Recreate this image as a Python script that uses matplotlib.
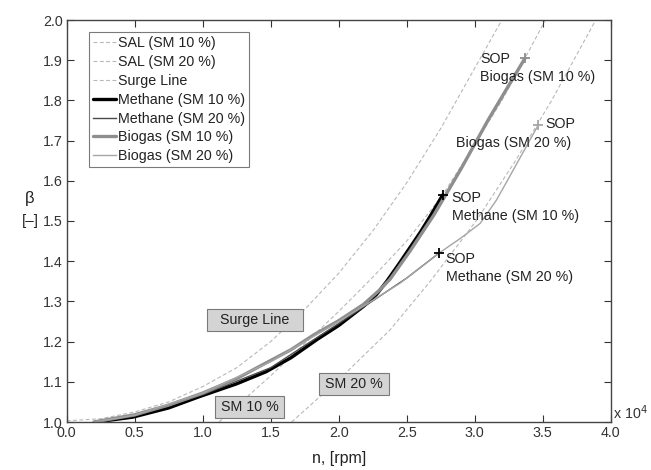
import matplotlib
matplotlib.use("Agg")
import matplotlib.pyplot as plt
from matplotlib.patches import Rectangle

plt.rcParams['font.family'] = ['Liberation Sans', 'DejaVu Sans']

# ---- data (n in rpm, beta in -) ----
surge_n = [0, 2500, 5000, 7500, 10000, 12500, 15000, 17500, 20000, 22500, 25000, 27500, 30000, 32000]
surge_b = [1.003, 1.008, 1.025, 1.050, 1.088, 1.135, 1.200, 1.280, 1.370, 1.475, 1.595, 1.730, 1.880, 2.000]

sal10_n = [11200, 15000, 20000, 22500, 25000, 27650, 30000, 32000, 33700, 35200]
sal10_b = [1.000, 1.115, 1.275, 1.360, 1.450, 1.565, 1.690, 1.800, 1.905, 2.000]

sal20_n = [16540, 20000, 23770, 26710, 30100, 33000, 35660, 38900]
sal20_b = [1.000, 1.105, 1.229, 1.349, 1.500, 1.650, 1.800, 2.000]

meth10_n = [2150, 4850, 7500, 9750, 12500, 14660, 16500, 18400, 20000, 21800, 22800, 23530, 24400, 25240, 26000, 26710, 27650]
meth10_b = [1.000, 1.012, 1.035, 1.063, 1.095, 1.125, 1.160, 1.205, 1.240, 1.287, 1.318, 1.350, 1.392, 1.434, 1.472, 1.511, 1.565]

meth20_n = [2100, 5000, 10000, 15000, 18400, 20000, 22000, 25000, 27370]
meth20_b = [1.000, 1.015, 1.068, 1.135, 1.210, 1.245, 1.290, 1.358, 1.420]

bio10_n = [2000, 5000, 7500, 10000, 12500, 14660, 16500, 18130, 20000, 21800, 23000, 23770, 25240, 27000, 29000, 31000, 33700]
bio10_b = [1.000, 1.018, 1.042, 1.072, 1.108, 1.147, 1.180, 1.216, 1.252, 1.292, 1.328, 1.355, 1.425, 1.515, 1.630, 1.752, 1.905]

bio20_n = [2000, 5000, 10000, 15000, 18400, 20000, 22000, 24500, 27370, 29000, 30400, 31600, 33100, 34680]
bio20_b = [1.000, 1.017, 1.072, 1.150, 1.218, 1.250, 1.292, 1.345, 1.420, 1.458, 1.494, 1.552, 1.643, 1.739]

sop_n = {'m10': 27650, 'm20': 27370, 'b10': 33700, 'b20': 34680}
sop_b = {'m10': 1.565, 'm20': 1.420, 'b10': 1.905, 'b20': 1.740}

legend_labels = ['SAL (SM 10 %)', 'SAL (SM 20 %)', 'Surge Line', 'Methane (SM 10 %)',
                 'Methane (SM 20 %)', 'Biogas (SM 10 %)', 'Biogas (SM 20 %)']
xticks = [0, 5000, 10000, 15000, 20000, 25000, 30000, 35000, 40000]
yticks = [1.0, 1.1, 1.2, 1.3, 1.4, 1.5, 1.6, 1.7, 1.8, 1.9, 2.0]

# ---- figure ----
fig = plt.figure(figsize=(6.51, 4.70), dpi=100)
ax = fig.add_axes([66.7/651, 48/470, 544/651, 402/470])

dash_c = '#b8b8b8'
dkw = dict(color=dash_c, lw=0.8, ls=(0, (3.5, 2.2)))
ax.plot(sal10_n, sal10_b, label=legend_labels[0], **dkw)
ax.plot(sal20_n, sal20_b, label=legend_labels[1], **dkw)
ax.plot(surge_n, surge_b, label=legend_labels[2], **dkw)

ax.plot(meth10_n, meth10_b, color='#000000', lw=2.4, label=legend_labels[3], solid_capstyle='round')
ax.plot(meth20_n, meth20_b, color='#4a4a4a', lw=1.0, label=legend_labels[4])
ax.plot(bio10_n, bio10_b, color='#8e8e8e', lw=2.4, label=legend_labels[5], solid_capstyle='round')
ax.plot(bio20_n, bio20_b, color='#a6a6a6', lw=1.0, label=legend_labels[6])

# SOP markers
ax.plot(sop_n['m10'], sop_b['m10'], marker='+', ms=7, mew=1.3, color='black', ls='none')
ax.plot(sop_n['m20'], sop_b['m20'], marker='+', ms=7, mew=1.3, color='black', ls='none')
ax.plot(sop_n['b10'], sop_b['b10'], marker='+', ms=7, mew=1.3, color='#8e8e8e', ls='none')
ax.plot(sop_n['b20'], sop_b['b20'], marker='+', ms=7, mew=1.3, color='#a6a6a6', ls='none')

fs = 10.3
tc = '#222222'
ax.text(30390, 1.903, 'SOP', fontsize=fs, color=tc, va='center', ha='left')
ax.text(30390, 1.859, 'Biogas (SM 10 %)', fontsize=fs, color=tc, va='center', ha='left')
ax.text(35220, 1.7405, 'SOP', fontsize=fs, color=tc, va='center', ha='left')
ax.text(28600, 1.695, 'Biogas (SM 20 %)', fontsize=fs, color=tc, va='center', ha='left')
ax.text(28310, 1.557, 'SOP', fontsize=fs, color=tc, va='center', ha='left')
ax.text(28310, 1.513, 'Methane (SM 10 %)', fontsize=fs, color=tc, va='center', ha='left')
ax.text(27870, 1.4055, 'SOP', fontsize=fs, color=tc, va='center', ha='left')
ax.text(27870, 1.3614, 'Methane (SM 20 %)', fontsize=fs, color=tc, va='center', ha='left')

# label boxes: (center n, center beta, width px, height px)
px_n = 1e4 / 136.0
px_b = 1.0 / 402.0
for label, cn, cb, wpx in [('Surge Line', 13820, 1.2525, 96),
                           ('SM 10 %', 13450, 1.037, 69),
                           ('SM 20 %', 21130, 1.094, 70)]:
    w = wpx * px_n
    h = 22 * px_b
    ax.add_patch(Rectangle((cn - w / 2, cb - h / 2), w, h, facecolor='#d4d4d4',
                           edgecolor='#7a7a7a', lw=0.8, zorder=5))
    ax.text(cn, cb, label, fontsize=fs, color=tc, ha='center', va='center', zorder=6)

ax.set_xlim(0, 40000)
ax.set_ylim(1.0, 2.0)
ax.set_xticks(xticks)
ax.set_xticklabels([f'{v/1e4:.1f}' for v in xticks])
ax.set_yticks(yticks)
ax.set_yticklabels([f'{v:.1f}' for v in yticks])
ax.tick_params(direction='in', length=5, width=0.8, top=True, right=True,
               labelsize=fs, colors='#333333', pad=3)
for s in ax.spines.values():
    s.set_color('#444444')
    s.set_linewidth(1.0)

ax.text(1.005, 0.0, r'x 10$^4$', transform=ax.transAxes, fontsize=fs, color='#333333',
        ha='left', va='bottom')

fig.text(338.7/651, (470-458)/470, 'n, [rpm]', fontsize=11.5, color='#222222', ha='center', va='center')
fig.text(30/651, (470-199)/470, 'β', fontsize=12, color='#222222', ha='center', va='center')
fig.text(30/651, (470-221)/470, '[–]', fontsize=11, color='#222222', ha='center', va='center')

leg = ax.legend(loc='upper left', bbox_to_anchor=(0.041, 0.970), borderaxespad=0,
                fontsize=fs, frameon=True, fancybox=False, framealpha=1,
                edgecolor='#7a7a7a', handlelength=1.6, handletextpad=0.16,
                labelspacing=0.34, borderpad=0.28, labelcolor='#222222')
leg.get_frame().set_linewidth(0.8)

fig.savefig('out.png', dpi=100, facecolor='white')
